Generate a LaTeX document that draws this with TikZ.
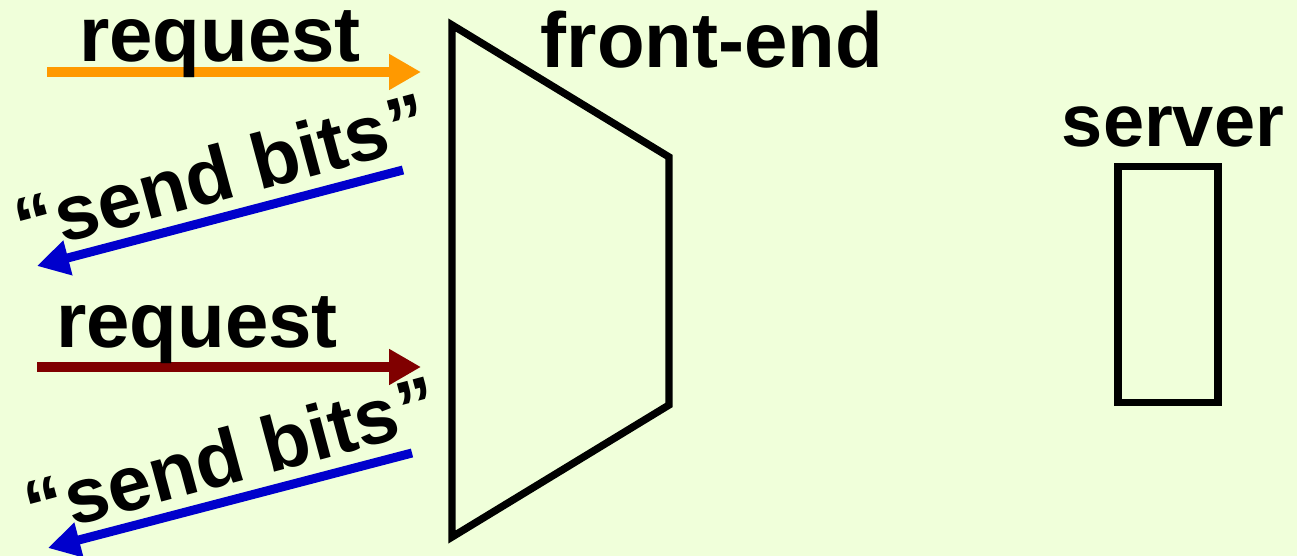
\documentclass[tikz,border=0pt]{standalone}
\usepackage{fontspec}
\setmainfont{Liberation Sans}
\usepackage{xcolor}
\usetikzlibrary{arrows.meta}

\definecolor{bgcol}{RGB}{240,255,218}
\definecolor{reqorange}{RGB}{255,153,0}
\definecolor{reqred}{RGB}{128,0,0}
\definecolor{bitsblue}{RGB}{0,0,204}

\begin{document}
\begin{tikzpicture}[x=0.5pt, y=-0.5pt,
    lbl/.style={font=\bfseries\fontsize{39}{40}\selectfont, anchor=base, inner sep=0pt},
    arr/.style={line width=5pt, -{Triangle[length=16pt,width=17pt]}},
    box/.style={draw, line width=3.7pt}]
  % background
  \fill[bgcol] (0,0) rectangle (1297,556);
  \useasboundingbox (0,0) rectangle (1297,556);

  % front-end funnel
  \draw[box, line join=miter] (452,25) -- (669,157) -- (669,405) -- (452,537) -- cycle;
  \node[lbl] (fe) at (712,68) {front-end};

  % server
  \node[box, minimum width=50pt, minimum height=118pt, inner sep=0pt] (srv) at (1168,284.5) {};
  \node[lbl, font=\bfseries\fontsize{37}{38}\selectfont] (srvlbl) at (1173,147) {server};

  % first request / reply
  \coordinate (req1s) at (47,72);
  \coordinate (req1e) at (421,72);
  \draw[arr, reqorange] (req1s) -- (req1e);
  \node[lbl] (req1) at (220,62) {request};
  \coordinate (bits1s) at (403,170);
  \coordinate (bits1e) at (37,266);
  \draw[arr, bitsblue, line width=4.5pt] (bits1s) -- (bits1e);
  \node[lbl, rotate=15] (bits1) at (228,199) {“\kern1pt send bits\kern1pt”};

  % second request / reply
  \coordinate (req2s) at (37,367);
  \coordinate (req2e) at (421,367);
  \draw[arr, reqred] (req2s) -- (req2e);
  \node[lbl] (req2) at (197,347) {request};
  \coordinate (bits2s) at (412,453);
  \coordinate (bits2e) at (48,548);
  \draw[arr, bitsblue, line width=4.5pt] (bits2s) -- (bits2e);
  \node[lbl, rotate=15] (bits2) at (238,482) {“\kern1pt send bits\kern1pt”};
\end{tikzpicture}
\end{document}
